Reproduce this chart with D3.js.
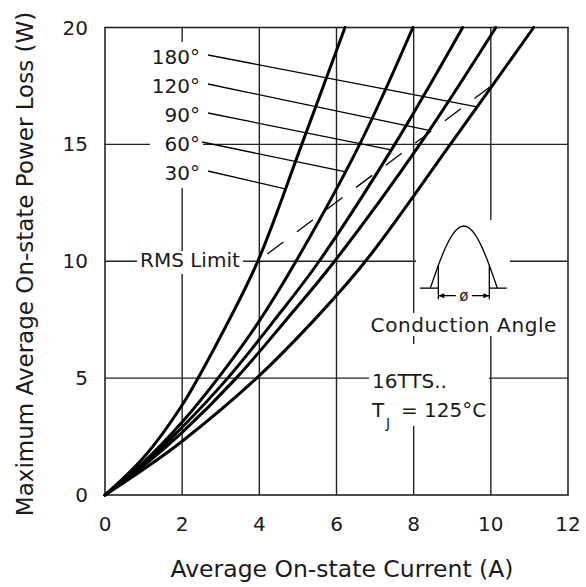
<!DOCTYPE html>
<html><head><meta charset="utf-8">
<script src="https://cdn.jsdelivr.net/npm/d3@7"></script>
<style>body{margin:0;background:#fff}svg{display:block}</style>
</head><body><svg id="c" width="586" height="587"></svg>
<script>
// ---- data ----
const angleLabels = ["180°", "120°", "90°", "60°", "30°"];
const current30  = [0, 1, 2, 3, 3.96, 5.1, 6.22];
const power30    = [0, 1.6, 3.85, 6.8, 10, 15, 20];
const current60  = [0, 1, 2, 2.93, 4, 4.95, 6.6, 7.98];
const power60    = [0, 1.4, 3.12, 5, 7.45, 10, 15, 20];
const current90  = [0, 1, 2, 3.18, 4.4, 5.55, 7.51, 9.27];
const power90    = [0, 1.32, 2.9, 5, 7.5, 10, 15, 20];
const current120 = [0, 1, 2, 3.4, 4.7, 5.95, 8.16, 10.13];
const power120   = [0, 1.25, 2.68, 5, 7.5, 10, 15, 20];
const current180 = [0, 1, 2, 3.93, 5.4, 6.75, 8.95, 11.11];
const power180   = [0, 1.1, 2.3, 5, 7.45, 10, 15, 20];
const rmsCurrent = [3.96, 10.05];
const rmsPower   = [10, 17.55];
const leaderPower = [16.6, 15.6, 14.76, 13.83, 13.1]; // where each label's leader meets its curve
const xTicks = [0, 2, 4, 6, 8, 10, 12];
const yTicks = [0, 5, 10, 15, 20];

const seriesCurrents = [current180, current120, current90, current60, current30];
const seriesPowers   = [power180, power120, power90, power60, power30];

// ---- layout ----
const svg = d3.select("#c");
const FONT = "DejaVu Sans";
const INK = "#1a1a1a";
const x = d3.scaleLinear().domain([0, 12]).range([105, 568]);
const y = d3.scaleLinear().domain([0, 20]).range([495, 27.5]);

svg.append("rect").attr("width", 586).attr("height", 587).attr("fill", "#fff");

// grid
const g = svg.append("g").attr("stroke", "#222").attr("stroke-width", 1.4).attr("fill", "none");
g.selectAll("line.v").data(xTicks.slice(1, -1)).join("line")
  .attr("x1", d => x(d)).attr("x2", d => x(d)).attr("y1", y(0)).attr("y2", y(20));
g.selectAll("line.h").data(yTicks.slice(1, -1)).join("line")
  .attr("x1", x(0)).attr("x2", x(12)).attr("y1", d => y(d)).attr("y2", d => y(d));
g.append("rect").attr("x", x(0)).attr("y", y(20)).attr("width", x(12) - x(0)).attr("height", y(0) - y(20))
  .attr("stroke-width", 1.6);

// white boxes behind annotations (they cut the grid like in the original)
const boxes = [
  [150, 42, 53, 146],   // angle labels
  [137, 251, 106, 23],  // RMS Limit
  [416, 220, 94, 93],   // conduction graphic
  [368, 313, 191, 23],  // Conduction Angle text
  [369, 344, 120, 82]   // 16TTS / TJ
];
svg.append("g").selectAll("rect").data(boxes).join("rect")
  .attr("x", d => d[0]).attr("y", d => d[1]).attr("width", d => d[2]).attr("height", d => d[3])
  .attr("fill", "#fff");

// curves
const line = d3.line().x(d => x(d[0])).y(d => y(d[1])).curve(d3.curveCatmullRom.alpha(0.5));
const seriesPts = seriesCurrents.map((cs, k) => cs.map((c, i) => [c, seriesPowers[k][i]]));
svg.append("g").selectAll("path").data(seriesPts).join("path")
  .attr("d", line).attr("fill", "none").attr("stroke", "#000")
  .attr("stroke-width", 3).attr("stroke-linejoin", "round").attr("stroke-linecap", "round");

// RMS limit dashed line
svg.append("path")
  .attr("d", d3.line().x(d => x(d[0])).y(d => y(d[1]))(rmsCurrent.map((c, i) => [c, rmsPower[i]])))
  .attr("fill", "none").attr("stroke", "#000").attr("stroke-width", 1.3)
  .attr("stroke-dasharray", "20,17").attr("stroke-dashoffset", -12);

// leaders and angle labels
function currentAt(cs, ps, p) {
  for (let i = 1; i < ps.length; i++) {
    if (p <= ps[i]) {
      const t = (p - ps[i - 1]) / (ps[i] - ps[i - 1]);
      return cs[i - 1] + t * (cs[i] - cs[i - 1]);
    }
  }
  return cs[cs.length - 1];
}
const labelBase = [64, 93, 122, 151, 180];
const leaderStartX = [208, 208, 208, 202, 208];
const lab = svg.append("g");
angleLabels.forEach((t, k) => {
  const pc = leaderPower[k];
  const ic = currentAt(seriesCurrents[k], seriesPowers[k], pc);
  lab.append("line").attr("x1", leaderStartX[k]).attr("y1", labelBase[k] - 9)
    .attr("x2", x(ic)).attr("y2", y(pc)).attr("stroke", "#000").attr("stroke-width", 1.3);
  lab.append("text").attr("x", 200).attr("y", labelBase[k]).attr("text-anchor", "end")
    .attr("font-family", FONT).attr("font-size", 20).attr("fill", INK).text(t);
});

// RMS Limit text
svg.append("text").attr("x", 140).attr("y", 267).attr("font-family", FONT).attr("font-size", 20)
  .attr("fill", INK).text("RMS Limit");

// conduction angle graphic
const cx = x(9.3), base = y(8.85);
const half = 33.5, hh = 62;
const hump = d3.range(0, 1.0001, 0.02).map(t => [cx - half + 2 * half * t, base - hh * Math.sin(Math.PI * t)]);
const cg = svg.append("g").attr("stroke", "#000").attr("fill", "none").attr("stroke-width", 1.3);
cg.append("path").attr("d", d3.line()(hump));
const hAt = xx => base - hh * Math.sin(Math.PI * (xx - (cx - half)) / (2 * half));
const lx = cx - 25.5, rx = cx + 25.5;
cg.append("line").attr("x1", cx - 44).attr("x2", lx).attr("y1", base).attr("y2", base);
cg.append("line").attr("x1", rx).attr("x2", cx + 43).attr("y1", base).attr("y2", base);
cg.append("line").attr("x1", lx).attr("x2", lx).attr("y1", hAt(lx)).attr("y2", base + 11);
cg.append("line").attr("x1", rx).attr("x2", rx).attr("y1", hAt(rx)).attr("y2", base + 11);
const dy = base + 7.5;
cg.append("line").attr("x1", lx).attr("x2", cx - 8).attr("y1", dy).attr("y2", dy);
cg.append("line").attr("x1", cx + 8).attr("x2", rx).attr("y1", dy).attr("y2", dy);
svg.append("path").attr("fill", "#000")
  .attr("d", `M${lx},${dy}l6,-2.5v5z M${rx},${dy}l-6,-2.5v5z`);
svg.append("text").attr("x", cx).attr("y", dy + 5).attr("text-anchor", "middle")
  .attr("font-family", FONT).attr("font-size", 15).attr("fill", INK).text("ø");
svg.append("text").attr("x", cx).attr("y", 332).attr("text-anchor", "middle")
  .attr("font-family", FONT).attr("font-size", 20).attr("letter-spacing", 0.6).attr("fill", INK)
  .text("Conduction Angle");

// device / temperature
svg.append("text").attr("x", 372).attr("y", 388).attr("font-family", FONT).attr("font-size", 20)
  .attr("fill", INK).text("16TTS..");
const tj = svg.append("text").attr("x", 372).attr("y", 417).attr("font-family", FONT).attr("font-size", 20).attr("fill", INK);
tj.append("tspan").text("T");
tj.append("tspan").attr("x", 386).attr("y", 428).attr("font-size", 14).text("J");
tj.append("tspan").attr("x", 401).attr("y", 417).text("= 125°C");

// tick labels
svg.append("g").selectAll("text").data(xTicks).join("text")
  .attr("x", d => x(d)).attr("y", 531).attr("text-anchor", "middle")
  .attr("font-family", FONT).attr("font-size", 20).attr("fill", INK).text(d => d);
svg.append("g").selectAll("text").data(yTicks).join("text")
  .attr("x", 88).attr("y", d => y(d) + 7).attr("text-anchor", "end")
  .attr("font-family", FONT).attr("font-size", 20).attr("fill", INK).text(d => d);

// axis titles
svg.append("text").attr("x", 342).attr("y", 577).attr("text-anchor", "middle")
  .attr("font-family", FONT).attr("font-size", 23.5).attr("fill", INK).text("Average On-state Current (A)");
svg.append("text").attr("transform", "translate(33,264) rotate(-90)").attr("text-anchor", "middle")
  .attr("font-family", FONT).attr("font-size", 23).attr("fill", INK).text("Maximum Average On-state Power Loss (W)");
</script></body></html>
